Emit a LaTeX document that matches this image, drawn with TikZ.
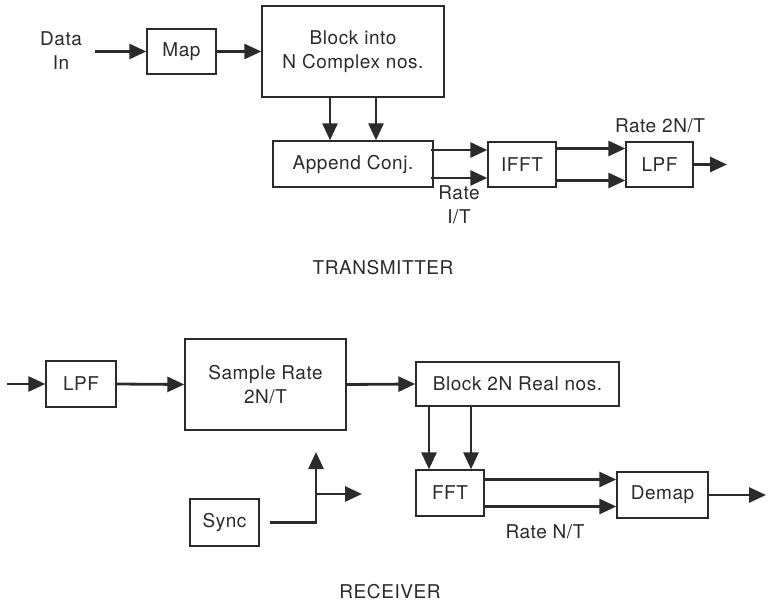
\documentclass[tikz,border=0pt]{standalone}
\usepackage{fontspec}
\setmainfont[LetterSpace=3]{TeX Gyre Heros}
\usetikzlibrary{arrows.meta,positioning,calc}
\definecolor{ink}{HTML}{2B2B2B}
\tikzset{
  blk/.style={draw=ink, line width=1.4pt, fill=white, inner sep=0pt,
    font=\fontsize{19}{24}\selectfont, text=ink, align=center},
  sig/.style={-{Triangle[length=17pt,width=15pt]}, line width=2.8pt, draw=ink},
  lbl/.style={font=\fontsize{19}{24}\selectfont, text=ink, align=center, inner sep=0pt},
  caption/.style={lbl},
}

\begin{document}
\begin{tikzpicture}[x=1pt,y=-1pt]
  \fill[white] (0,0) rectangle (768,604);
  \useasboundingbox (0,0) rectangle (768,604);

  % transmitter chain
  \node[lbl] (datain) at (61,51) {Data\\In};
  \coordinate (din) at (95,51.5);
  \node[blk, minimum width=69pt, minimum height=45pt] (map) at (181.5,51.5) {Map};
  \node[blk, minimum width=182pt, minimum height=91pt] (blkc) at (353,51.5) {Block into\\N Complex nos.};
  \node[blk, minimum width=160pt, minimum height=46pt] (app) at (353,164) {Append Conj.};
  \node[blk, minimum width=68pt, minimum height=45pt] (ifft) at (522,164.5) {IFFT};
  \node[blk, minimum width=67pt, minimum height=45pt] (lpft) at (659.5,164.5) {LPF};
  \coordinate (tout) at (727,164.5);

  \draw[sig] (din) -- (map.west);
  \draw[sig] (map.east) -- (blkc.west);
  \foreach \dx in {-23,23}
    \draw[sig] ([xshift=\dx pt]blkc.south) -- ([xshift=\dx pt]app.north);
  \foreach \dy in {-14,14}
    \draw[sig] ([xshift=-3pt,yshift=\dy pt]app.east) -- ([yshift=\dy pt]app.east -| ifft.west);
  \foreach \dy in {-16,16}
    \draw[sig] ([yshift=\dy pt]ifft.east) -- ([yshift=\dy pt]ifft.east -| lpft.west);
  \draw[sig] (lpft.east) -- (tout);

  \node[lbl] (r2n) at (660,126) {Rate 2N/T};
  \node[lbl] (r1t) at (459,204.5) {Rate\\I/T};
  \node[caption] (tx) at (383,268) {TRANSMITTER};

  % receiver chain
  \coordinate (rin) at (7,384);
  \node[blk, minimum width=70pt, minimum height=46pt] (lpfr) at (81,384) {LPF};
  \node[blk, minimum width=161pt, minimum height=91pt] (samp) at (265.5,384.5) {Sample Rate\\2N/T};
  \node[blk, minimum width=203pt, minimum height=44pt] (blkr) at (517.5,384) {Block 2N Real nos.};
  \node[blk, minimum width=68pt, minimum height=46pt] (fft) at (450,493) {FFT};
  \node[blk, minimum width=91pt, minimum height=46pt] (demap) at (662.5,495) {Demap};
  \node[blk, minimum width=69pt, minimum height=47pt] (sync) at (224.5,522.5) {Sync};
  \coordinate (rout) at (766,495);
  \coordinate (sup) at (316,452);
  \coordinate (sfwd) at (362,494);

  \draw[sig] (rin) -- (lpfr.west);
  \draw[sig] (lpfr.east) -- (samp.west);
  \draw[sig] (samp.east) -- (blkr.west);
  \foreach \dx in {-21,21}
    \draw[sig] ([xshift=\dx pt]fft.north |- blkr.south) -- ([xshift=\dx pt]fft.north);
  \foreach \dy in {-13.5,13.5}
    \draw[sig] ([yshift=\dy pt]fft.east) -- ([yshift=\dy pt]fft.east -| demap.west);
  \draw[sig] (demap.east) -- (rout);
  \draw[sig] ([xshift=10pt]sync.east) -| (sup);
  \draw[sig] (sup |- sfwd) -- (sfwd);

  \node[lbl] (rnt) at (545,532) {Rate N/T};
  \node[caption] (rx) at (390,592) {RECEIVER};
\end{tikzpicture}
\end{document}
